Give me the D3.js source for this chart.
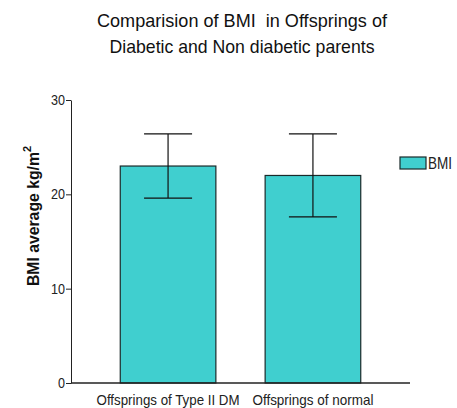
<!DOCTYPE html>
<html>
<head>
<meta charset="utf-8">
<script src="https://cdn.jsdelivr.net/npm/d3@7"></script>
<style>
  body { margin: 0; background: #fff; }
  svg { display: block; font-family: "Liberation Sans", Arial, sans-serif; }
</style>
</head>
<body>
<div id="chart"></div>
<script>
// data
const categories = ['Offsprings of Type II DM', 'Offsprings of normal'];
const bmiMeans = [23.0, 22.0];
const bmiSD = [3.4, 4.4];
const yTicks = [0, 10, 20, 30];
const titleLines = ['Comparision of BMI  in Offsprings of', 'Diabetic and Non diabetic parents'];

const width = 457, height = 408;
const margin = { left: 71, top: 100, right: 47, bottom: 25 };

// the original font is a narrow one, so squeeze text to the measured widths
const titleWidths = [290, 265];
const catWidths = [143, 121];

const svg = d3.select('#chart').append('svg')
  .attr('width', width)
  .attr('height', height);

const x = d3.scaleBand()
  .domain(categories)
  .range([margin.left, width - margin.right])
  .paddingInner(0.34)
  .paddingOuter(0.34);

const y = d3.scaleLinear()
  .domain([0, 30])
  .range([height - margin.bottom, margin.top]);

// title
svg.append('g')
  .selectAll('text')
  .data(titleLines)
  .join('text')
  .attr('x', 242)
  .attr('y', (d, i) => 27 + i * 26)
  .attr('text-anchor', 'middle')
  .attr('font-size', '19px')
  .attr('fill', '#111')
  .attr('textLength', (d, i) => titleWidths[i])
  .attr('lengthAdjust', 'spacingAndGlyphs')
  .style('white-space', 'pre')
  .text(d => d);

// bars
svg.append('g')
  .selectAll('rect')
  .data(bmiMeans)
  .join('rect')
  .attr('x', (d, i) => x(categories[i]))
  .attr('y', d => y(d))
  .attr('width', x.bandwidth())
  .attr('height', d => y(0) - y(d))
  .attr('fill', '#40cfcf')
  .attr('stroke', '#1a2a2a')
  .attr('stroke-width', 1.2);

// error bars
const capW = 48;
const err = svg.append('g')
  .attr('stroke', '#111')
  .attr('stroke-width', 1.2);
bmiMeans.forEach((m, i) => {
  const cx = x(categories[i]) + x.bandwidth() / 2;
  err.append('line')
    .attr('x1', cx).attr('x2', cx)
    .attr('y1', y(m + bmiSD[i])).attr('y2', y(m - bmiSD[i]));
  [m + bmiSD[i], m - bmiSD[i]].forEach(v => {
    err.append('line')
      .attr('x1', cx - capW / 2).attr('x2', cx + capW / 2)
      .attr('y1', y(v)).attr('y2', y(v));
  });
});

// y axis
const yAxis = svg.append('g')
  .attr('transform', `translate(${margin.left},0)`)
  .call(d3.axisLeft(y).tickValues(yTicks).tickSize(5).tickSizeOuter(0));
yAxis.select('.domain').attr('stroke', '#222');
yAxis.selectAll('.tick line').attr('stroke', '#222');
yAxis.selectAll('.tick text')
  .attr('font-size', '14px')
  .attr('fill', '#222')
  .attr('x', -6)
  .attr('font-family', '"Liberation Sans", Arial, sans-serif')
  .attr('textLength', d => d === 0 ? 7 : 14)
  .attr('lengthAdjust', 'spacingAndGlyphs');

// x axis
svg.append('line')
  .attr('x1', margin.left).attr('x2', 410)
  .attr('y1', y(0)).attr('y2', y(0))
  .attr('stroke', '#222')
  .attr('stroke-width', 1.5);

svg.append('g')
  .selectAll('text')
  .data(categories)
  .join('text')
  .attr('x', d => x(d) + x.bandwidth() / 2)
  .attr('y', 405)
  .attr('text-anchor', 'middle')
  .attr('font-size', '15px')
  .attr('fill', '#222')
  .attr('textLength', (d, i) => catWidths[i])
  .attr('lengthAdjust', 'spacingAndGlyphs')
  .text(d => d);

// y axis title
const yt = svg.append('text')
  .attr('transform', 'translate(39,216) rotate(-90)')
  .attr('text-anchor', 'middle')
  .attr('font-size', '16px')
  .attr('font-weight', 'bold')
  .attr('fill', '#111');
yt.append('tspan')
  .attr('textLength', 134)
  .attr('lengthAdjust', 'spacingAndGlyphs')
  .text('BMI average kg/m');
yt.append('tspan').attr('dy', -8).attr('font-size', '11px').text('2');

// legend
svg.append('rect')
  .attr('x', 400).attr('y', 157)
  .attr('width', 26).attr('height', 12)
  .attr('fill', '#40cfcf')
  .attr('stroke', '#1a2a2a')
  .attr('stroke-width', 1.2);
svg.append('text')
  .attr('x', 428).attr('y', 169)
  .attr('font-size', '16px')
  .attr('fill', '#222')
  .attr('textLength', 24)
  .attr('lengthAdjust', 'spacingAndGlyphs')
  .text('BMI');
</script>
</body>
</html>
